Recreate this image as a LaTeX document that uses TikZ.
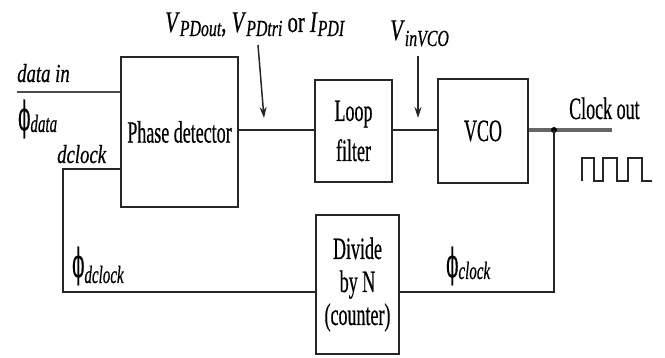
\documentclass[tikz,border=0pt]{standalone}
\usepackage{fontspec}
\setmainfont{Liberation Serif}[UprightFeatures={FakeBold=0.7}, ItalicFeatures={FakeBold=0.7}]
\newfontfamily\phifont{DejaVu Serif}[FakeBold=0.7]
\usepackage{graphicx}
\usetikzlibrary{arrows.meta}

% condensed lettering
\newcommand\narrow[2][0.58]{\scalebox{#1}[1]{#2}}
\newcommand\rmbig{\fontsize{31}{33}\selectfont}
\newcommand\itlab{\fontsize{26}{28}\selectfont\itshape}
\newcommand\itsub{\fontsize{25}{26}\selectfont\itshape}
\newcommand\phiglyph{\scalebox{0.45}[1]{\phifont\fontsize{40}{40}\selectfont ϕ}}
% phi with a raised/lowered italic subscript
\newcommand\philab[2]{\phiglyph\raisebox{#1}{\itsub\narrow[0.6]{#2}}}
% italic V/I with lowered subscript
\newcommand\vsub[1]{\raisebox{-4pt}{\fontsize{23}{24}\selectfont\itshape #1}}

\begin{document}
\begin{tikzpicture}[x=1pt,y=-1pt,
  box/.style={draw=black!85, line width=1.8pt, inner sep=0pt, align=center, font=\rmbig},
  wire/.style={draw=black!85, line width=1.6pt},
  outwire/.style={draw=black!60, line width=3.4pt},
  probe/.style={-{Stealth[length=11pt,width=7pt]}, line width=1.5pt, draw=black!85},
  lab/.style={inner sep=0pt, anchor=base west},
]
\useasboundingbox (0,0) rectangle (665,358);

% blocks
\node[box, minimum width=117pt, minimum height=150pt] (pd) at (179.5,132) {\narrow{Phase detector}};
\node[box, minimum width=77pt, minimum height=102pt, font=\fontsize{31}{40}\selectfont] (lf) at (353.5,131) {\narrow{Loop}\\\narrow{filter}};
\node[box, minimum width=90pt, minimum height=104pt] (vco) at (483,131) {\narrow{VCO}};
\node[box, minimum width=83pt, minimum height=139pt] (div) at (357.5,284.5) {\narrow{Divide}\\\narrow{by N}\\\narrow{(counter)}};

% wire junctions and free ends
\coordinate (din) at (17,92);
\coordinate (dck) at (63,169);
\coordinate (fbl) at (63,292);
\coordinate (fbr) at (554,292);
\coordinate (tap) at (554,130);
\coordinate (out) at (612,130);
\coordinate (a1s) at (258,45);
\coordinate (a1e) at (264,118);
\coordinate (a2s) at (418,56);
\coordinate (a2e) at (418,118);

% signal path
\draw[wire, line width=2.2pt, draw=black!70] (din) -- (din -| pd.west);
\draw[wire] (pd.east |- tap) -- (lf.west |- tap);
\draw[wire] (lf.east |- tap) -- (vco.west |- tap);
\draw[outwire] (vco.east |- tap) -- (out);
\fill[black] (tap) circle (3pt);

% feedback loop
\draw[wire] (tap) -- (fbr) -- (fbr -| div.east);
\draw[wire] (fbl -| div.west) -- (fbl) -- (dck) -- (dck -| pd.west);

% probe arrows
\draw[probe] (a1s) -- (a1e);
\draw[probe] (a2s) -- (a2e);

% clock waveform
\draw[line width=2pt, black!85, line join=miter]
  (582,181) -- (582,158) -- (594,158) -- (594,181) -- (603,181) -- (603,158)
  -- (617,158) -- (617,181) -- (628,181) -- (628,158) -- (642,158) -- (642,181) -- (652,181);

% labels
\node[lab] (tdata) at (17,82) {\itlab\narrow[0.72]{data in}};
\node[lab] (tphid) at (18,130) {\philab{-2pt}{data}};
\node[lab] (tdclk) at (57,163) {\itlab\narrow[0.72]{dclock}};
\node[lab] (tphidc) at (72,277) {\philab{-6pt}{dclock}};
\node[lab] (tphic) at (446,277) {\philab{-2pt}{clock}};
\node[lab] (tclk) at (569,119) {\rmbig\narrow{Clock out}};
\node[lab] (tvpd) at (165,32) {\narrow[0.69]{\fontsize{30}{32}\selectfont\textit{V}\vsub{PDout}, \textit{V}\vsub{PDtri} or \textit{I}\vsub{PDI}}};
\node[lab] (tvin) at (390,40) {\narrow[0.69]{\fontsize{30}{32}\selectfont\textit{V}\raisebox{-6pt}{\fontsize{23}{24}\selectfont\itshape inVCO}}};
\end{tikzpicture}
\end{document}
